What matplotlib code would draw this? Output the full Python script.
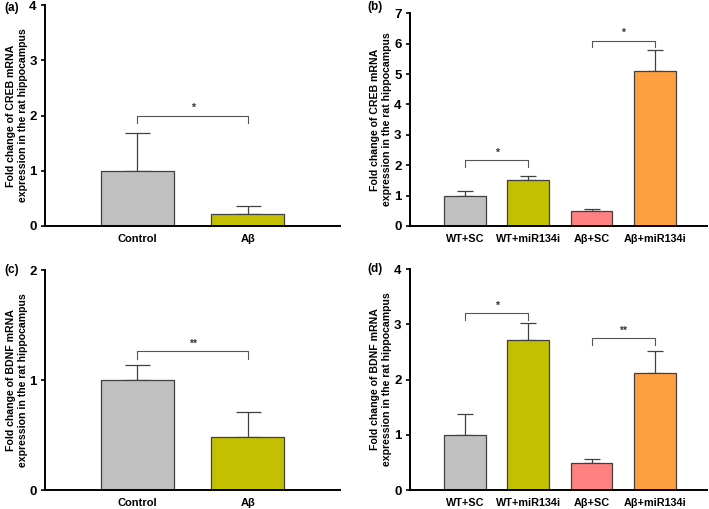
import matplotlib.pyplot as plt
import numpy as np

plt.rcParams['font.family'] = ['Liberation Sans', 'DejaVu Sans']

# data
two_groups = ['Control', 'A\u03b2']
four_groups = ['WT+SC', 'WT+miR134i', 'A\u03b2+SC', 'A\u03b2+miR134i']

creb_two = [1.0, 0.22]
creb_two_err = [0.69, 0.14]
creb_four = [0.99, 1.52, 0.48, 5.1]
creb_four_err = [0.17, 0.14, 0.07, 0.7]

bdnf_two = [1.0, 0.48]
bdnf_two_err = [0.14, 0.23]
bdnf_four = [1.0, 2.72, 0.49, 2.12]
bdnf_four_err = [0.38, 0.30, 0.065, 0.40]

colors_two = ['#c0c0c0', '#c2c000']
colors_four = ['#c0c0c0', '#c2c000', '#ff8080', '#ffa040']

W, H = 709, 509
fig = plt.figure(figsize=(W / 100, H / 100), dpi=100)

panels = [
    # label, label pos (px), rect, groups, values, errors, colors, ymax, gene, xlim, brackets
    ('(a)', (4, 8), [0.0635, 0.556, 0.416, 0.434], two_groups, creb_two, creb_two_err, colors_two, 4, 'CREB',
     (-0.837, 1.833), [(0, 1, 2.0, 1.87, '*')]),
    ('(b)', (367, 7), [0.578, 0.556, 0.419, 0.418], four_groups, creb_four, creb_four_err, colors_four, 7, 'CREB',
     (-0.87, 3.82), [(0, 1, 2.16, 1.95, '*'), (2, 3, 6.1, 5.88, '*')]),
    ('(c)', (4, 270), [0.0635, 0.0373, 0.416, 0.432], two_groups, bdnf_two, bdnf_two_err, colors_two, 2, 'BDNF',
     (-0.837, 1.833), [(0, 1, 1.26, 1.19, '**')]),
    ('(d)', (367, 269), [0.578, 0.0373, 0.419, 0.434], four_groups, bdnf_four, bdnf_four_err, colors_four, 4, 'BDNF',
     (-0.87, 3.82), [(0, 1, 3.2, 3.07, '*'), (2, 3, 2.75, 2.62, '**')]),
]

for label, lpos, rect, groups, vals, errs, cols, ymax, gene, xlim, brackets in panels:
    ax = fig.add_axes(rect)
    x = np.arange(len(groups))
    ax.bar(x, vals, 0.66, color=cols, edgecolor='#404040', linewidth=0.9, zorder=2)
    ax.errorbar(x, vals, yerr=[np.zeros(len(vals)), errs], fmt='none', ecolor='#404040',
                elinewidth=0.9, capsize=9 if len(groups) == 2 else 6, capthick=0.9, zorder=1)
    ax.set_xlim(*xlim)
    ax.set_ylim(0, ymax)
    ax.set_yticks(range(ymax + 1))
    ax.set_xticks(x)
    ax.set_xticklabels(groups, fontsize=8 if len(groups) == 2 else 7.8, fontweight='bold')
    ax.tick_params(axis='x', length=0, pad=6)
    ax.tick_params(axis='y', length=3, width=1.2, labelsize=9.5, pad=3)
    for t in ax.get_yticklabels():
        t.set_fontweight('bold')
    ax.spines['top'].set_visible(False)
    ax.spines['right'].set_visible(False)
    ax.spines['left'].set_linewidth(1.4)
    ax.spines['bottom'].set_linewidth(1.4)
    ax.set_ylabel('Fold change of %s mRNA\nexpression in the rat hippocampus' % gene,
                  fontsize=7.6, fontweight='bold', linespacing=1.25)
    ax.yaxis.set_label_coords(-0.058 if len(groups) == 2 else -0.06, 0.5)
    for i, j, ytop, yend, star in brackets:
        ax.plot([i, i, j, j], [yend, ytop, ytop, yend], color='#555555', linewidth=0.8)
        ax.text((i + j) / 2, ytop + ymax * 0.012, star, ha='center', va='bottom',
                fontsize=7.5, fontweight='bold', color='#333333')
    fig.text(lpos[0] / W, 1 - lpos[1] / H, label, fontsize=8.5, fontweight='bold',
             ha='left', va='center')

fig.savefig('out.png', dpi=100)
